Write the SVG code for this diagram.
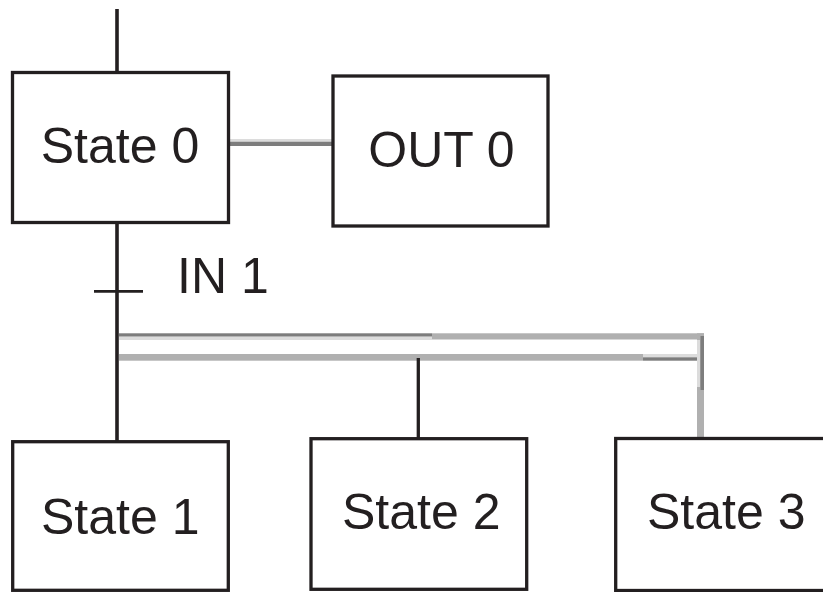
<svg xmlns="http://www.w3.org/2000/svg" width="823" height="592" viewBox="0 0 823 592">
  <style>
    .box { fill: #ffffff; stroke: #231f20; stroke-width: 3.3; }
    .lbl { font-family: "Liberation Sans", Arial, Helvetica, sans-serif; font-size: 50px; fill: #231f20; }
    .wire { stroke: #231f20; fill: none; }
    .dk { fill: #7d7d7d; }
    .lt { fill: #dcdcdc; }
    .md { fill: #b0b0b0; }
  </style>
  <rect width="823" height="592" fill="#ffffff"/>

  <!-- connectors -->
  <g id="connectors">
    <!-- incoming link to the initial step -->
    <line class="wire" x1="117" y1="9" x2="117" y2="73" stroke-width="3.6"/>
    <!-- State 0 down to the divergence and State 1 -->
    <line class="wire" x1="117" y1="222" x2="117" y2="442" stroke-width="3.6"/>
    <!-- transition bar IN 1 -->
    <line class="wire" x1="94" y1="291.3" x2="143" y2="291.3" stroke-width="2.7"/>
    <!-- action link State 0 to OUT 0 -->
    <rect class="lt" x="223" y="139" width="115" height="2.7"/>
    <rect class="dk" x="223" y="141.7" width="115" height="4.3"/>
    <!-- parallel divergence double bar -->
    <rect class="dk" x="119" y="333.3" width="313" height="3.4"/>
    <rect class="lt" x="119" y="336.7" width="313" height="3.3"/>
    <rect class="md" x="432" y="333.3" width="272" height="6.2"/>
    <rect class="md" x="119" y="354" width="524" height="6.7"/>
    <rect class="lt" x="643" y="354" width="57" height="3.3"/>
    <rect class="dk" x="643" y="357.3" width="61" height="3.4"/>
    <!-- branch to State 3 -->
    <rect class="md" x="697" y="333.3" width="7" height="106"/>
    <rect class="lt" x="697" y="340" width="3" height="47"/>
    <rect class="dk" x="700.5" y="336" width="3.5" height="54"/>
    <!-- branch to State 2 -->
    <line class="wire" x1="418.3" y1="358" x2="418.3" y2="439" stroke-width="3.3"/>
  </g>

  <g id="state0">
    <rect class="box" x="12.5" y="72.5" width="216" height="150"/>
    <text class="lbl" x="120" y="163.3" text-anchor="middle">State 0</text>
  </g>

  <g id="out0">
    <rect class="box" x="333" y="76" width="215" height="150"/>
    <text class="lbl" x="441.5" y="167.3" text-anchor="middle">OUT 0</text>
  </g>

  <g id="in1">
    <text class="lbl" x="177" y="292.7">IN 1</text>
  </g>

  <g id="state1">
    <rect class="box" x="12.7" y="441.7" width="215.6" height="148.6"/>
    <text class="lbl" x="41" y="534">State 1</text>
  </g>

  <g id="state2">
    <rect class="box" x="311" y="438.7" width="215.7" height="150.6"/>
    <text class="lbl" x="342" y="529.3">State 2</text>
  </g>

  <g id="state3">
    <rect class="box" x="615.7" y="438.5" width="215" height="152"/>
    <text class="lbl" x="647" y="529.3">State 3</text>
  </g>
</svg>
